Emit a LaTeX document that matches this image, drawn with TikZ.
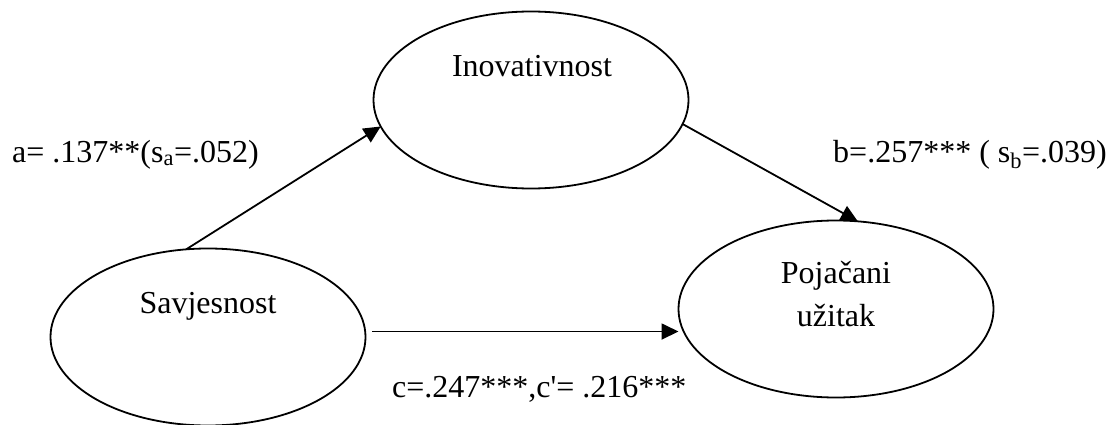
\documentclass[tikz,border=0pt]{standalone}
\usepackage{fontspec}
\setmainfont{Liberation Serif}
\usetikzlibrary{arrows.meta,shapes.geometric}
\tikzset{
  latent/.style={ellipse, draw, line width=1.8pt, minimum width=315pt, minimum height=177pt, inner sep=0pt, outer sep=0pt},
  lbl/.style={font=\fontsize{32}{43}\selectfont, inner sep=0pt},
  path/.style={line width=1.8pt, -{Triangle[length=17pt,width=16pt]}}
}
\begin{document}
\begin{tikzpicture}[x=1pt,y=-1pt]
\useasboundingbox (0,0) rectangle (1113,425);
\node[latent] (ino) at (531,100) {};
\node[latent] (sav) at (208,337) {};
\node[latent] (poj) at (836,309) {};
\node[lbl, anchor=base] (tino) at (532,77) {Inovativnost};
\node[lbl, anchor=base] (tsav) at (208,313) {Savjesnost};
\node[lbl, anchor=base] (tpoj1) at (836,283) {Pojačani};
\node[lbl, anchor=base] (tpoj2) at (836,326) {užitak};
\draw[path] (sav.104) -- (ino.190);
\draw[path] (ino.351) -- (poj.76);
\draw[path, shorten <=7pt] (sav.2) -- (sav.2 -| poj.west);
\node[lbl, anchor=base west] (la) at (12,162) {a= .137**(s\textsubscript{a}=.052)};
\node[lbl, anchor=base west] (lb) at (833,162) {b=.257*** ( s\textsubscript{b}=.039)};
\node[lbl, anchor=base west] (lc) at (392,397) {c=.247***,c\textquotesingle= .216***};
\end{tikzpicture}
\end{document}
